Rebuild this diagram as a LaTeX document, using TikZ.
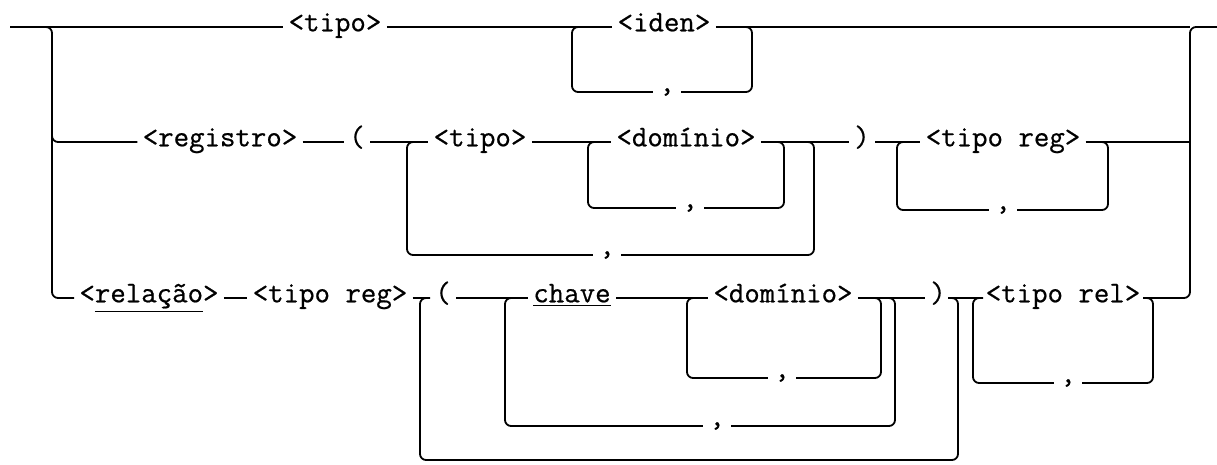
\documentclass[tikz,border=0pt]{standalone}
\usepackage{fontspec}
\newfontfamily\railtt{Latin Modern Mono}[FakeBold=0.6]
\newcommand\railfont{\railtt\fontsize{15pt}{17pt}\selectfont}
\begin{document}
\begin{tikzpicture}[x=0.5pt,y=-0.5pt,
  rail/.style={line width=0.9pt, rounded corners=3pt},
  term/.style={font=\railfont, anchor=mid, inner xsep=2.5pt, inner ysep=0pt},
  sepr/.style={font=\railfont, anchor=center, inner xsep=3pt, inner ysep=0pt}]
\useasboundingbox (0,0) rectangle (1217,465);
\def\yA{27}\def\yB{142}\def\yC{298}

% ---------- outer frame: entry, left and right verticals, exit
\coordinate (inA)  at (10,\yA);
\coordinate (lA)   at (52,\yA);
\coordinate (lB)   at (52,\yB);
\coordinate (lC)   at (52,\yC);
\coordinate (rA)   at (1190,\yA);
\coordinate (rB)   at (1190,\yB);
\coordinate (rC)   at (1190,\yC);
\coordinate (outA) at (1217,\yA);

% ---------- first alternative
\node[term] (tipoA) at (335,\yA) {<tipo>};
\node[term] (iden)  at (664,\yA) {<iden>};
\coordinate (idenL) at (572,\yA);
\coordinate (idenR) at (752,\yA);
\node[sepr] (cIden) at (667,92) {,};

% ---------- second alternative
\node[term] (registro) at (220,\yB) {<registro>};
\node[term] (parB)     at (357,\yB) {(};
\node[term] (tipoB)    at (480,\yB) {<tipo>};
\node[term] (domB)     at (686,\yB) {<domínio>};
\node[term] (parBc)    at (862,\yB) {)};
\node[term] (tregB)    at (1003,\yB) {<tipo reg>};
\coordinate (outBL) at (407,\yB);  \coordinate (outBR) at (814,\yB);
\node[sepr] (cOutB) at (607,255) {,};
\coordinate (inBL)  at (588,\yB);  \coordinate (inBR)  at (784,\yB);
\node[sepr] (cInB)  at (690,208) {,};
\coordinate (trBL)  at (897,\yB);  \coordinate (trBR)  at (1108,\yB);
\node[sepr] (cTrB)  at (1003,210) {,};

% ---------- third alternative
\node[term] (relacao) at (149,\yC) {<\underline{relação}>};
\node[term] (tregC)   at (330,\yC) {<tipo reg>};
\node[term] (parC)    at (443,\yC) {(};
\node[term] (chave)   at (572,\yC) {\underline{chave}};
\node[term] (domC)    at (783,\yC) {<domínio>};
\node[term] (parCc)   at (938,\yC) {)};
\node[term] (trel)    at (1063,\yC) {<tipo rel>};
\coordinate (bigL)  at (420,\yC);  \coordinate (bigR)  at (958,\yC);
\coordinate (bigBL) at (420,460);  \coordinate (bigBR) at (958,460);
\coordinate (chL)   at (505,\yC);  \coordinate (chR)   at (895,\yC);
\node[sepr] (cCh)   at (717,426) {,};
\coordinate (dCL)   at (687,\yC);  \coordinate (dCR)   at (881,\yC);
\node[sepr] (cDC)   at (782,378) {,};
\coordinate (trCL)  at (973,\yC);  \coordinate (trCR)  at (1153,\yC);
\node[sepr] (cTrC)  at (1068,383) {,};

% ---------- frame lines
\draw[rail] (inA) -- (lA) -- (lC) -- (relacao.mid west);
\draw[rail] ([yshift=5pt]lB) -- (lB) -- (registro.mid west);
\draw[rail] (trel.mid east) -- (rC) -- (rA) -- (outA);
\draw[rail] (tregB.mid east) -- (rB);

% ---------- first alternative lines
\draw[rail] (inA) -- (tipoA.mid west);
\draw[rail] (tipoA.mid east) -- (iden.mid west);
\draw[rail] (iden.mid east) -- (rA);
\draw[rail] ([xshift=5pt]idenL) -- (idenL) |- (cIden.west);
\draw[rail] (cIden.east) -| (idenR) -- ([xshift=-5pt]idenR);

% ---------- second alternative lines
\draw[rail] (registro.mid east) -- (parB.mid west);
\draw[rail] (parB.mid east) -- (tipoB.mid west);
\draw[rail] (tipoB.mid east) -- (domB.mid west);
\draw[rail] (domB.mid east) -- (parBc.mid west);
\draw[rail] (parBc.mid east) -- (tregB.mid west);
\draw[rail] ([xshift=5pt]outBL) -- (outBL) |- (cOutB.west);
\draw[rail] (cOutB.east) -| (outBR) -- ([xshift=-5pt]outBR);
\draw[rail] ([xshift=5pt]inBL) -- (inBL) |- (cInB.west);
\draw[rail] (cInB.east) -| (inBR) -- ([xshift=-5pt]inBR);
\draw[rail] ([xshift=5pt]trBL) -- (trBL) |- (cTrB.west);
\draw[rail] (cTrB.east) -| (trBR) -- ([xshift=-5pt]trBR);

% ---------- third alternative lines
\draw[rail] (relacao.mid east) -- (tregC.mid west);
\draw[rail] (tregC.mid east) -- (parC.mid west);
\draw[rail] (parC.mid east) -- (chave.mid west);
\draw[rail] (chave.mid east) -- (domC.mid west);
\draw[rail] (domC.mid east) -- (parCc.mid west);
\draw[rail] (parCc.mid east) -- (trel.mid west);
\draw[rail] ([xshift=5pt]bigL) -- (bigL) -- (bigBL) -- (bigBR) -- (bigR) -- ([xshift=-5pt]bigR);
\draw[rail] ([xshift=5pt]chL) -- (chL) |- (cCh.west);
\draw[rail] (cCh.east) -| (chR) -- ([xshift=-5pt]chR);
\draw[rail] ([xshift=5pt]dCL) -- (dCL) |- (cDC.west);
\draw[rail] (cDC.east) -| (dCR) -- ([xshift=-5pt]dCR);
\draw[rail] ([xshift=5pt]trCL) -- (trCL) |- (cTrC.west);
\draw[rail] (cTrC.east) -| (trCR) -- ([xshift=-5pt]trCR);
\end{tikzpicture}
\end{document}
